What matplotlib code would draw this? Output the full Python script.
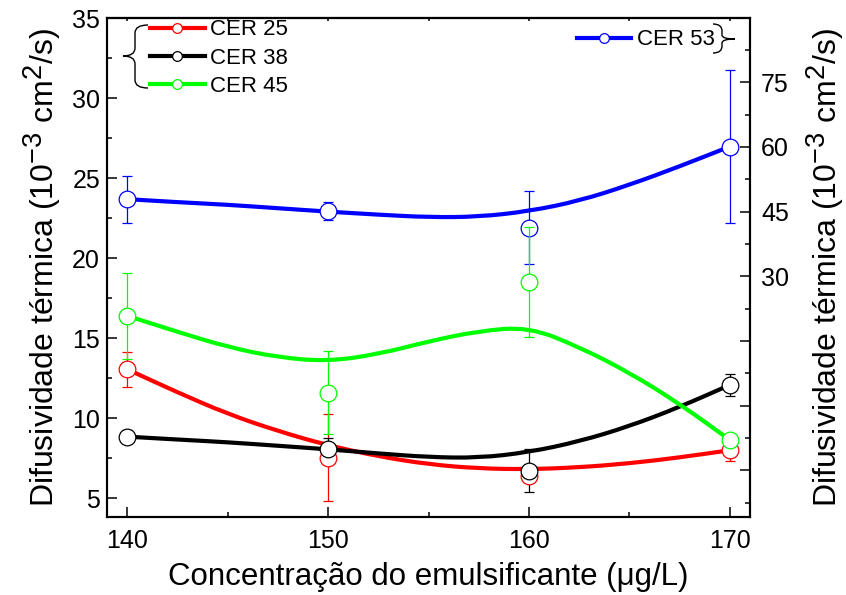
import matplotlib
matplotlib.use('Agg')
import matplotlib.pyplot as plt
from matplotlib import _mathtext
from matplotlib.lines import Line2D
from matplotlib.path import Path
from matplotlib.patches import PathPatch
from matplotlib.ticker import AutoMinorLocator
from matplotlib.transforms import Affine2D

plt.rcParams['font.family'] = ['Liberation Sans', 'DejaVu Sans']
plt.rcParams['mathtext.default'] = 'regular'
_mathtext.SHRINK_FACTOR = 0.85  # Origin draws fairly big superscripts

# measured points (mean +- error)
conc = [140, 150, 160, 170]
cer25 = [13.06, 7.54, 6.4, 8.0]
cer25_err = [1.1, 2.7, 0.3, 0.7]
cer38 = [8.85, 8.06, 6.73, 12.08]
cer38_err = [0.4, 0.72, 1.35, 0.7]
cer45 = [16.4, 11.6, 18.5, 8.64]
cer45_err = [2.67, 2.6, 3.45, 0.4]
cer53 = [47.9, 45.2, 41.3, 60.1]        # right axis
cer53_err = [5.45, 2.1, 8.5, 17.7]

# smooth curves
fit_x = [140, 142.5, 145, 147.5, 150, 152.5, 155, 157.5, 160, 162.5, 165, 167.5, 170]
fit25 = [13.06, 11.62, 10.27, 9.2, 8.3, 7.62, 7.12, 6.86, 6.81, 6.93, 7.18, 7.55, 8.0]
fit38 = [8.85, 8.67, 8.5, 8.28, 8.06, 7.8, 7.57, 7.52, 7.88, 8.55, 9.5, 10.7, 12.08]
fit45 = [16.4, 15.4, 14.45, 13.8, 13.55, 14.0, 14.8, 15.45, 15.7, 14.45, 12.85, 10.9, 8.64]
fit53 = [47.9, 47.2, 46.6, 45.8, 45.0, 44.3, 43.7, 43.8, 45.1, 47.5, 51.2, 55.5, 60.1]

left_series = [
    ('CER 25', cer25, cer25_err, fit25, '#ff0000'),
    ('CER 38', cer38, cer38_err, fit38, '#000000'),
    ('CER 45', cer45, cer45_err, fit45, '#00ff00'),
]

fig = plt.figure(figsize=(8.46, 5.95), dpi=100)
ax = fig.add_axes([107 / 846, 78 / 595, 643 / 846, 499 / 595])
ax2 = ax.twinx()
ax.set_zorder(ax2.get_zorder() + 1)
ax.patch.set_visible(False)


def smooth_path(xs, ys):
    # quadratic bezier through the midpoints, the read points act as controls
    pts = list(zip(xs, ys))
    verts = [pts[0]]
    codes = [Path.MOVETO]
    mids = [((x0 + x1) / 2, (y0 + y1) / 2) for (x0, y0), (x1, y1) in zip(pts[:-1], pts[1:])]
    verts.append(mids[0])
    codes.append(Path.LINETO)
    for p, m in zip(pts[1:-1], mids[1:]):
        verts += [p, m]
        codes += [Path.CURVE3, Path.CURVE3]
    verts.append(pts[-1])
    codes.append(Path.LINETO)
    return Path(verts, codes)


def draw(a, y, err, fit, color):
    a.add_patch(PathPatch(smooth_path(fit_x, fit), fill=False, edgecolor=color,
                          lw=3, capstyle='round', zorder=2))
    a.errorbar(conc, y, yerr=err, fmt='none', ecolor=color, elinewidth=0.9,
               capsize=3.8, capthick=0.9, zorder=3)
    a.plot(conc, y, 'o', ms=12, mfc='white', mec=color, mew=0.9, zorder=4)


draw(ax2, cer53, cer53_err, fit53, '#0000ff')
for name, y, err, fit, color in left_series:
    draw(ax, y, err, fit, color)

ax.set_xlim(139, 171)
ax.set_ylim(3.83, 35)
ax2.set_ylim(-25.8, 89.9)

ax.set_xticks(conc)
ax.set_xticks([145, 155, 165], minor=True)
ax.set_yticks(range(5, 36, 5))
ax.yaxis.set_minor_locator(AutoMinorLocator(2))
right_ticks = [-15, 0, 15, 30, 45, 60, 75]
ax2.set_yticks(right_ticks)
ax2.set_yticklabels(['', '', '', '30', '45', '60', '75'])
ax2.yaxis.set_minor_locator(AutoMinorLocator(2))

for a in (ax, ax2):
    for s in a.spines.values():
        s.set_linewidth(1.5)
ax.tick_params(which='both', direction='in', width=1.1, labelsize=18)
ax.tick_params(which='major', length=7)
ax.tick_params(which='minor', length=3.5)
ax.tick_params(axis='x', pad=9)
ax.tick_params(axis='y', pad=5)
ax2.tick_params(which='both', direction='in', width=1.1, labelsize=18, pad=8)
ax2.tick_params(which='major', length=7)
ax2.tick_params(which='minor', length=3.5)

top = ax.secondary_xaxis('top')
top.set_xticks(conc + [145, 155, 165])
top.tick_params(direction='in', length=2.5, width=1.1, labeltop=False)
top.spines['top'].set_linewidth(1.5)

ylab = 'Difusividade térmica (10$^{-3}$ cm$^{2}$/s)'
ax.set_ylabel(ylab, fontsize=23, labelpad=6)
ax2.set_ylabel(ylab, fontsize=23, labelpad=11, rotation=90)
ax.set_xlabel('Concentração do emulsificante (μg/L)', fontsize=22.5, labelpad=6)

handles = [Line2D([], [], color=c, lw=3, marker='o', ms=7, mfc='white', mec=c, mew=0.9)
           for _, _, _, _, c in left_series]
leg1 = ax.legend(handles, [s[0] for s in left_series], loc='upper left',
                 bbox_to_anchor=(0.067, 0.997), frameon=False, fontsize=16,
                 handlelength=2.45, handletextpad=0.25, labelspacing=0.33,
                 borderpad=0, borderaxespad=0)
ax.add_artist(leg1)
h53 = Line2D([], [], color='#0000ff', lw=3, marker='o', ms=7, mfc='white',
             mec='#0000ff', mew=0.9)
ax.legend([h53], ['CER 53'], loc='upper left', bbox_to_anchor=(0.731, 0.977),
          frameon=False, fontsize=16, handlelength=2.45, handletextpad=0.25,
          borderpad=0, borderaxespad=0)

# braces that tie each legend group to its axis (reference pixel coords)
px = Affine2D().scale(1 / 846, -1 / 595).translate(0, 1) + fig.transFigure
C3 = Path.CURVE3
left_brace = Path(
    [(148, 25), (135, 25), (135, 33), (135, 48), (135, 56), (123, 56),
     (135, 56), (135, 64), (135, 80), (135, 88), (148, 88)],
    [Path.MOVETO, C3, C3, Path.LINETO, C3, C3, C3, C3, Path.LINETO, C3, C3])
right_brace = Path(
    [(713, 24), (722, 24), (722, 31), (722, 35), (722, 39), (735, 39),
     (722, 39), (722, 43), (722, 46), (722, 53), (713, 53)],
    [Path.MOVETO, C3, C3, Path.LINETO, C3, C3, C3, C3, Path.LINETO, C3, C3])
for p in (left_brace, right_brace):
    fig.add_artist(PathPatch(p, transform=px, fill=False, lw=1.0, color='black'))

fig.savefig('out.png', dpi=100)
